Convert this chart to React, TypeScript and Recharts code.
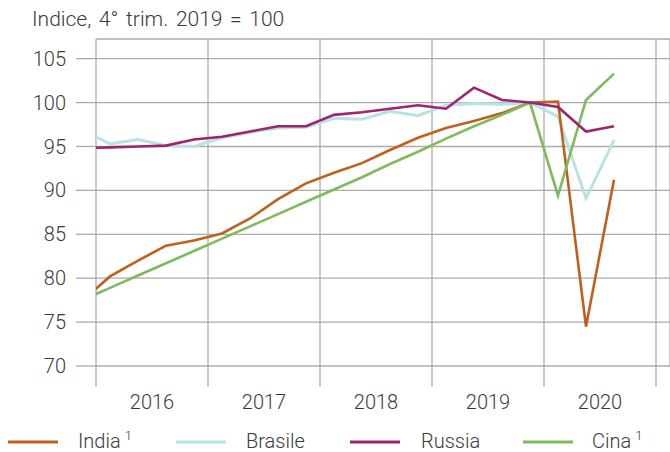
import { CartesianGrid, Line, LineChart, XAxis, YAxis } from "recharts";

// quarters, 2015Q4 is partly cut off at the left edge
const quarters = [
  "2015Q4",
  "2016Q1", "2016Q2", "2016Q3", "2016Q4",
  "2017Q1", "2017Q2", "2017Q3", "2017Q4",
  "2018Q1", "2018Q2", "2018Q3", "2018Q4",
  "2019Q1", "2019Q2", "2019Q3", "2019Q4",
  "2020Q1", "2020Q2", "2020Q3",
];

const india = [77.4, 80.2, 82.0, 83.7, 84.3, 85.1, 86.8, 89.0, 90.8, 92.0, 93.1, 94.6, 96.0, 97.1, 97.9, 98.8, 100, 100.1, 74.5, 91.2];
const brasile = [96.9, 95.3, 95.8, 95.1, 95.0, 96.0, 96.6, 97.1, 97.2, 98.2, 98.1, 99.0, 98.5, 99.7, 99.9, 99.8, 100, 98.4, 89.1, 95.7];
const russia = [94.8, 94.9, 95.0, 95.1, 95.8, 96.1, 96.7, 97.3, 97.3, 98.6, 98.9, 99.3, 99.7, 99.3, 101.7, 100.3, 100, 99.5, 96.7, 97.3];
const cina = [77.5, 78.9, 80.3, 81.7, 83.1, 84.5, 85.9, 87.3, 88.7, 90.1, 91.5, 93.0, 94.4, 95.9, 97.3, 98.6, 100, 89.4, 100.3, 103.3];

const yearLabels = ["2016", "2017", "2018", "2019", "2020"];
const yearTicks = [0, 4, 8, 12, 16, 20];
const yTicks = [70, 75, 80, 85, 90, 95, 100, 105];

const series = [
  { key: "brasile", name: "Brasile", color: "#b9e2e4", sup: false },
  { key: "india", name: "India", color: "#c0601c", sup: true },
  { key: "cina", name: "Cina", color: "#7dbb5b", sup: true },
  { key: "russia", name: "Russia", color: "#9c2472", sup: false },
];
const legendOrder = ["india", "brasile", "russia", "cina"];

const data = quarters.map((q, i) => ({
  q,
  x: i - 0.5,
  india: india[i],
  brasile: brasile[i],
  russia: russia[i],
  cina: cina[i],
}));

const FONT = "Roboto, 'Liberation Sans', Arial, sans-serif";
const TEXT = "#3a3a3a";
const GRID = "#ababab";

function YearTick(props: any) {
  const { x, y, payload } = props;
  const idx = yearTicks.indexOf(payload.value);
  if (idx < 0 || idx >= yearLabels.length) return null;
  // label sits in the middle of the year (2 quarters to the right)
  return (
    <text x={x + 56} y={y} dy={20} textAnchor="middle" fill={TEXT} fontSize={20} fontFamily={FONT} fontWeight={300}>
      {yearLabels[idx]}
    </text>
  );
}

export default function App() {
  const legendX: Record<string, [number, number]> = {
    india: [8, 78],
    brasile: [176, 246],
    russia: [350, 421],
    cina: [523, 592],
  };
  return (
    <div style={{ position: "absolute", left: 0, top: 0, width: 670, height: 452, background: "#fff", fontFamily: FONT }}>
      <div
        style={{
          position: "absolute",
          left: 32,
          top: 7,
          fontSize: 21,
          wordSpacing: 2.5,
          color: TEXT,
          fontWeight: 300,
          whiteSpace: "nowrap",
        }}
      >
        Indice, 4° trim. 2019 = 100
      </div>
      <LineChart width={670} height={452} data={data} margin={{ top: 39, right: 0, left: 0, bottom: 46 }}>
        <CartesianGrid stroke={GRID} strokeWidth={1.3} />
        <XAxis
          dataKey="x"
          type="number"
          domain={[0, 20.5]}
          ticks={yearTicks}
          allowDataOverflow
          axisLine={false}
          tickSize={21}
          tickMargin={2}
          tickLine={{ stroke: GRID, strokeWidth: 1.3 }}
          tick={<YearTick />}
          height={40}
          interval={0}
        />
        <YAxis
          type="number"
          domain={[70, 107.24]}
          ticks={yTicks}
          allowDataOverflow
          axisLine={false}
          width={96}
          tickSize={20}
          tickMargin={10}
          tickLine={{ stroke: GRID, strokeWidth: 1.3 }}
          tick={{ fill: TEXT, fontSize: 20, fontFamily: FONT, fontWeight: 300 }}
          interval={0}
        />
        {series.map((s) => (
          <Line
            key={s.key}
            dataKey={s.key}
            name={s.name}
            stroke={s.color}
            strokeWidth={s.key === "brasile" ? 3 : 2.6}
            dot={false}
            activeDot={false}
            isAnimationActive={false}
          />
        ))}
      </LineChart>
      <svg style={{ position: "absolute", left: 0, top: 418 }} width={670} height={34}>
        {legendOrder.map((k) => {
          const s = series.find((d) => d.key === k)!;
          const [lx, tx] = legendX[k];
          return (
            <g key={k}>
              <line x1={lx} x2={lx + 50} y1={24} y2={24} stroke={s.color} strokeWidth={3} />
              <text x={tx} y={30} fill={TEXT} fontSize={20} fontFamily={FONT} fontWeight={300}>
                {s.name}
                {s.sup ? (
                  <tspan dx={4} dy={-8} fontSize={13}>
                    1
                  </tspan>
                ) : null}
              </text>
            </g>
          );
        })}
      </svg>
    </div>
  );
}
